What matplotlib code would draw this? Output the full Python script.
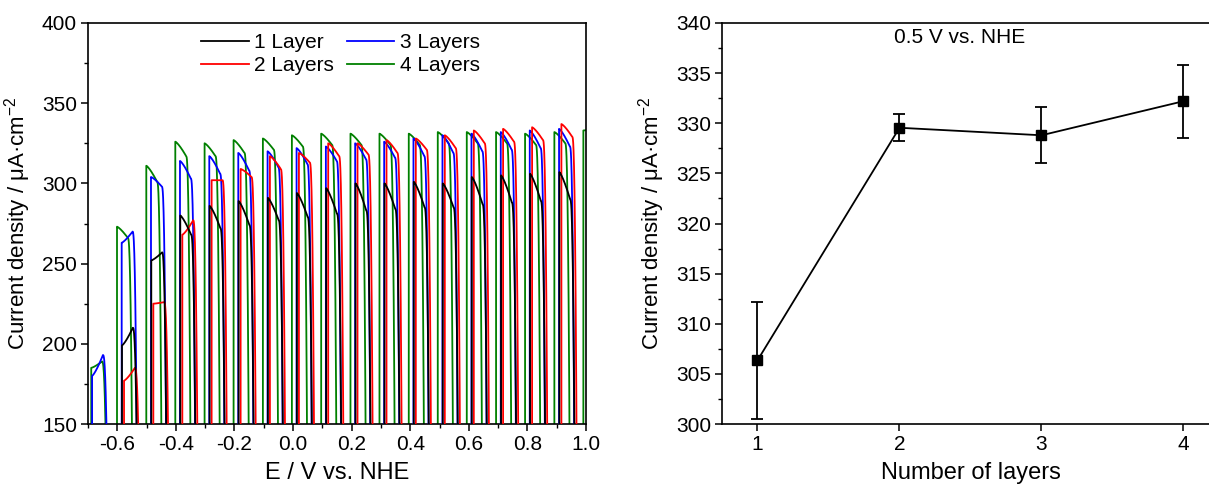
import numpy as np
import matplotlib
matplotlib.use("Agg")
import matplotlib.pyplot as plt
from matplotlib.ticker import MultipleLocator

plt.rcParams['font.family'] = ['Liberation Sans', 'DejaVu Sans']
plt.rcParams['mathtext.fontset'] = 'custom'
plt.rcParams['mathtext.rm'] = 'Liberation Sans'
plt.rcParams['mathtext.it'] = 'Liberation Sans'

# ---------------- Left panel data: chopped-light pulses ----------------
labels = ["1 Layer", "2 Layers", "3 Layers", "4 Layers"]
colors = ["#000000", "#ff0000", "#0000ff", "#008000"]

# light-on potentials (V vs NHE) per series
starts_1 = [-0.584, -0.484, -0.385, -0.285, -0.186, -0.086, 0.013, 0.113, 0.213, 0.312,
            0.412, 0.511, 0.610, 0.710, 0.809, 0.909]
starts_2 = [-0.577, -0.477, -0.378, -0.278, -0.179, -0.079, 0.020, 0.120, 0.220, 0.319,
            0.419, 0.518, 0.617, 0.717, 0.816, 0.916]
starts_3 = [-0.686, -0.585, -0.485, -0.386, -0.286, -0.187, -0.087, 0.012, 0.112, 0.212,
            0.311, 0.411, 0.510, 0.609, 0.709, 0.808, 0.908]
starts_4 = [-0.689, -0.601, -0.501, -0.402, -0.302, -0.203, -0.103, -0.004, 0.096, 0.196,
            0.295, 0.395, 0.494, 0.593, 0.693, 0.792, 0.892, 0.991]

# photocurrent at light-on and just before light-off (uA cm^-2)
first_1 = [199, 252, 280, 286, 289, 291, 294, 297, 300, 300, 301, 300, 304, 305, 306, 307]
last_1 = [210, 257, 268, 272, 274, 277, 279, 281, 283, 284, 285, 285, 287, 288, 289, 290]
first_2 = [177, 225, 268, 302, 309, 317, 319, 325, 325, 327, 328, 330, 333, 334, 335, 337]
last_2 = [185, 226, 277, 302, 304, 309, 313, 317, 318, 319, 321, 322, 325, 326, 327, 329]
first_3 = [180, 263, 304, 314, 317, 319, 320, 322, 323, 325, 326, 328, 330, 331, 332, 333, 334]
last_3 = [193, 270, 298, 303, 306, 308, 310, 312, 314, 315, 316, 317, 319, 320, 321, 322, 323]
first_4 = [185, 273, 311, 326, 325, 327, 328, 330, 331, 331, 331, 331, 332, 332, 332, 331, 332, 333]
last_4 = [189, 266, 301, 317, 317, 319, 321, 323, 324, 324, 324, 324, 325, 325, 325, 324, 325, 334]

series = [(starts_1, first_1, last_1), (starts_2, first_2, last_2),
          (starts_3, first_3, last_3), (starts_4, first_4, last_4)]

ON = 0.037
FALL = 0.016
DARK = 100.0


def build(starts, first, last):
    xs, ys = [], []
    t = np.linspace(0, 1, 30)
    for s, a, b in zip(starts, first, last):
        xs.append(np.array([s]))
        ys.append(np.array([DARK]))
        xs.append(s + ON * t)
        ys.append(a + (b - a) * t ** 1.3)
        xs.append(s + ON + FALL * t[1:])
        ys.append(b - (b - DARK) * t[1:] ** 2.6)
    return np.concatenate(xs), np.concatenate(ys)


# ---------------- Right panel data ----------------
layers = [1, 2, 3, 4]
current_05V = [306.35, 329.55, 328.8, 332.2]
current_err = [5.85, 1.35, 2.8, 3.65]

fig = plt.figure(figsize=(12.09, 4.93), dpi=100)

# Left axes
ax1 = fig.add_axes([88 / 1209, 1 - 424 / 493, (586 - 88) / 1209, (424 - 23) / 493])
zorders = [5, 4, 3, 2]
handles = {}
for i in [3, 2, 1, 0]:
    s, f, l = series[i]
    x, y = build(s, f, l)
    h, = ax1.plot(x, y, color=colors[i], lw=1.3, zorder=zorders[i])
    handles[i] = h
ax1.set_xlim(-0.7, 1.0)
ax1.set_ylim(150, 400)
ax1.xaxis.set_minor_locator(MultipleLocator(0.1))
ax1.yaxis.set_major_locator(MultipleLocator(50))
ax1.yaxis.set_minor_locator(MultipleLocator(25))
ax1.set_xticks([-0.6, -0.4, -0.2, 0.0, 0.2, 0.4, 0.6, 0.8, 1.0])
ax1.set_xticklabels(["-0.6", "-0.4", "-0.2", "0.0", "0.2", "0.4", "0.6", "0.8", "1.0"])
ax1.set_xlabel("E / V vs. NHE", fontsize=17, labelpad=6)
ax1.set_ylabel("Current density / μA·cm$^{-2}$", fontsize=16, labelpad=6)
leg = ax1.legend([handles[i] for i in range(4)], labels, ncol=2, frameon=False,
                 loc='upper left', bbox_to_anchor=(0.227, 0.975), borderaxespad=0, borderpad=0,
                 fontsize=15, handlelength=2.3, handletextpad=0.25, columnspacing=0.6,
                 labelspacing=0.2)

# Right axes
ax2 = fig.add_axes([722 / 1209, 1 - 424 / 493, (1219 - 722) / 1209, (424 - 23) / 493])
ax2.errorbar(layers, current_05V, yerr=current_err, color='black', lw=1.3, marker='s',
             markersize=6.5, capsize=4, elinewidth=1.3, capthick=1.3)
ax2.set_xlim(0.75, 4.25)
ax2.set_ylim(300, 340)
ax2.set_xticks(layers)
ax2.yaxis.set_major_locator(MultipleLocator(5))
ax2.yaxis.set_minor_locator(MultipleLocator(2.5))
ax2.set_xlabel("Number of layers", fontsize=17, labelpad=6)
ax2.set_ylabel("Current density / μA·cm$^{-2}$", fontsize=16, labelpad=6)
ax2.text(0.479, 0.963, "0.5 V vs. NHE", transform=ax2.transAxes, ha='center', va='center',
         fontsize=15)

for ax in (ax1, ax2):
    for sp in ax.spines.values():
        sp.set_linewidth(1.2)
    ax.tick_params(which='major', direction='out', length=5, width=1.1, labelsize=15, pad=3)
    ax.tick_params(which='minor', direction='out', length=3, width=1.0)
ax2.tick_params(axis='x', which='minor', length=0)

fig.savefig("out.png", dpi=100)
